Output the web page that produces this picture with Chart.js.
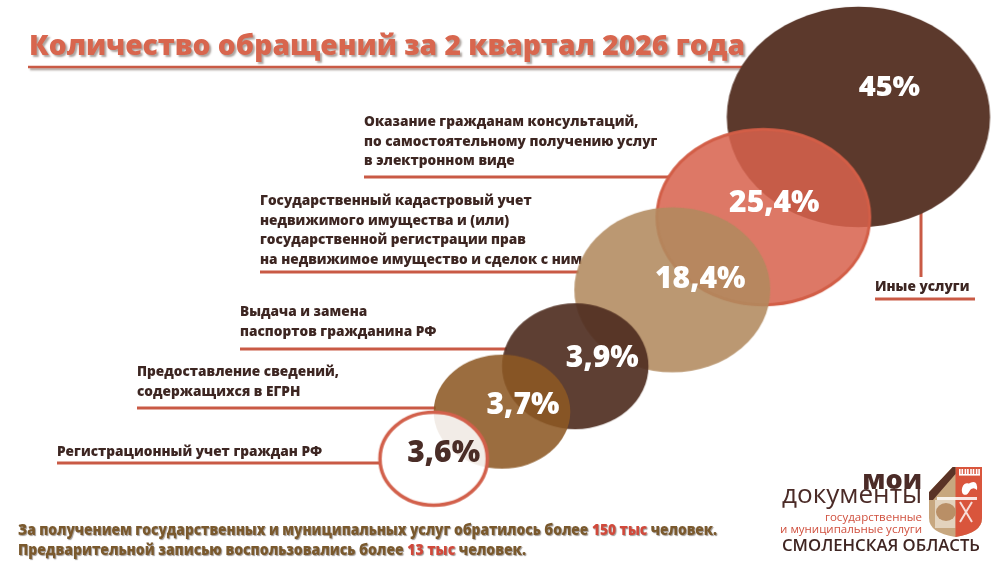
<!DOCTYPE html>
<html><head><meta charset="utf-8">
<script src="https://cdn.jsdelivr.net/npm/chart.js@4.4.1/dist/chart.umd.min.js"></script>
<style>html,body{margin:0;padding:0;background:#fff;overflow:hidden}#wrap{width:1000px;height:564px;position:relative}</style>
</head><body><div id="wrap"><canvas id="c" width="1000" height="564"></canvas></div>
<script>
// ---------- DATA ----------
const categories = [
  'Иные услуги',
  'Оказание гражданам консультаций, по самостоятельному получению услуг в электронном виде',
  'Государственный кадастровый учет недвижимого имущества и (или) государственной регистрации прав на недвижимое имущество и сделок с ним',
  'Выдача и замена паспортов гражданина РФ',
  'Предоставление сведений, содержащихся в ЕГРН',
  'Регистрационный учет граждан РФ'
];
const shares = [45, 25.4, 18.4, 3.9, 3.7, 3.6];
const categoryLines = [
  ['Иные услуги'],
  ['Оказание гражданам консультаций,', 'по самостоятельному получению услуг', 'в электронном виде'],
  ['Государственный кадастровый учет', 'недвижимого имущества и (или)', 'государственной регистрации прав', 'на недвижимое имущество и сделок с ним'],
  ['Выдача и замена', 'паспортов гражданина РФ'],
  ['Предоставление сведений,', 'содержащихся в ЕГРН'],
  ['Регистрационный учет граждан РФ']
];
const titleText = 'Количество обращений за 2 квартал 2026 года';
const totalVisitors = '150 тыс';
const preBooked = '13 тыс';

// ---------- LAYOUT (axis units 0..100) ----------
const bubbleCenter = [[86.2,20.2],[76.6,38.3],[67.4,51.4],[57.6,65.2],[50.2,73.4],[43.3,81.9]];
const bubbleRadius = [[13.3,19.9],[10.9,16.1],[9.9,14.9],[7.4,11.35],[6.9,10.3],[5.6,8.7]];
const valueOffset = [[31,-29],[11,-14],[28,-10],[27,-8],[21,-6],[10,-5]];
const labelPos = [[875,287],[364,122],[260,201],[240,312],[137,372],[57,452]];
const underlineY = [299,177,272,349,408,463];
// ---------- STYLES ----------
const fills = ['#5c392c','rgba(215,98,77,0.86)','rgba(178,138,95,0.88)','rgba(80,47,34,0.92)','rgba(141,89,36,0.88)','rgba(255,255,255,0.88)'];
const strokes = [null,'#d25e47',null,null,null,'#d2604b'];
const strokeW = [0,3,0,0,0,3.5];
const valueColors = ['#fff','#fff','#fff','#fff','#fff','#4a2d27'];
const lineColor = '#c95a45';
const textDark = '#3d2622';

const cache = {};
function ellipseImage(chart, i){
  const xs = chart.scales.x, ys = chart.scales.y;
  const cx = bubbleCenter[i][0], cy = bubbleCenter[i][1];
  const rx = Math.abs(xs.getPixelForValue(cx + bubbleRadius[i][0]) - xs.getPixelForValue(cx));
  const ry = Math.abs(ys.getPixelForValue(cy + bubbleRadius[i][1]) - ys.getPixelForValue(cy));
  const key = i + ':' + rx.toFixed(1) + ':' + ry.toFixed(1);
  if (cache[key]) return cache[key];
  const lw = strokeW[i];
  const W = 2*Math.ceil(rx + lw) + 2, H = 2*Math.ceil(ry + lw) + 2;
  const cv = document.createElement('canvas'); cv.width = W; cv.height = H;
  const g = cv.getContext('2d');
  g.beginPath(); g.ellipse(W/2, H/2, rx - lw/2, ry - lw/2, 0, 0, Math.PI*2);
  g.fillStyle = fills[i]; g.fill();
  if (strokes[i]) { g.lineWidth = lw; g.strokeStyle = strokes[i]; g.stroke(); }
  cache[key] = cv; return cv;
}
function ellipsePx(chart, i){
  const xs = chart.scales.x, ys = chart.scales.y;
  const cx = bubbleCenter[i][0], cy = bubbleCenter[i][1];
  return {
    x: xs.getPixelForValue(cx), y: ys.getPixelForValue(cy),
    rx: Math.abs(xs.getPixelForValue(cx + bubbleRadius[i][0]) - xs.getPixelForValue(cx)),
    ry: Math.abs(ys.getPixelForValue(cy + bubbleRadius[i][1]) - ys.getPixelForValue(cy))
  };
}
function leftEdge(e, y){
  const d = (y - e.y)/e.ry; return e.x - e.rx*Math.sqrt(Math.max(0, 1 - d*d));
}
function fitText(ctx, text, x, y, w){
  const m = ctx.measureText(text).width; const s = w ? w/m : 1;
  ctx.save(); ctx.translate(x, y); ctx.scale(s, 1); ctx.fillText(text, 0, 0); ctx.restore();
  return m*s;
}
const fmt = v => String(v).replace('.', ',') + '%';

const decor = {
  id: 'decor',
  beforeDatasetsDraw(chart){
    const ctx = chart.ctx;
    ctx.save();
    // title
    ctx.font = '800 28px "Open Sans"'; ctx.textBaseline = 'alphabetic'; ctx.textAlign = 'left';
    ctx.shadowColor = 'rgba(70,50,40,0.45)'; ctx.shadowOffsetX = 2; ctx.shadowOffsetY = 2; ctx.shadowBlur = 2;
    ctx.fillStyle = '#d8664e';
    fitText(ctx, titleText, 29, 55, 716);
    const big = ellipsePx(chart, 0);
    ctx.strokeStyle = lineColor; ctx.lineWidth = 2.5;
    ctx.beginPath(); ctx.moveTo(28, 67); ctx.lineTo(leftEdge(big, 67) + 2, 67); ctx.stroke();
    ctx.shadowColor = 'transparent';
    // leader lines
    ctx.lineWidth = 3; ctx.strokeStyle = lineColor;
    for (let i = 1; i < categories.length; i++) {
      const e = ellipsePx(chart, i); const y = underlineY[i];
      ctx.beginPath(); ctx.moveTo(labelPos[i][0], y); ctx.lineTo(leftEdge(e, y) + 2, y); ctx.stroke();
    }
    // "other" leader
    const vx = 921; const d = (vx - big.x)/big.rx; const by = big.y + big.ry*Math.sqrt(1 - d*d);
    ctx.beginPath(); ctx.moveTo(vx, by - 2); ctx.lineTo(vx, 277); ctx.stroke();
    ctx.beginPath(); ctx.moveTo(875, underlineY[0]); ctx.lineTo(975, underlineY[0]); ctx.stroke();
    // labels
    ctx.fillStyle = textDark; ctx.font = '800 14px "Open Sans"'; ctx.textBaseline = 'middle';
    for (let i = 0; i < categories.length; i++) {
      categoryLines[i].forEach((t, k) => {
        ctx.save(); ctx.translate(labelPos[i][0], labelPos[i][1] + k*19.5); ctx.scale(0.975, 1.04);
        ctx.fillText(t, 0, 0); ctx.restore();
      });
    }
    ctx.restore();
  },
  afterDatasetsDraw(chart){
    const ctx = chart.ctx; const meta = chart.getDatasetMeta(0);
    ctx.save();
    ctx.textAlign = 'center'; ctx.textBaseline = 'middle';
    meta.data.forEach((pt, i) => {
      ctx.fillStyle = valueColors[i];
      ctx.font = (i === 0 ? '800 29px' : '800 30px') + ' "Open Sans"';
      ctx.fillText(fmt(shares[i]), pt.x + valueOffset[i][0], pt.y + valueOffset[i][1]);
    });
    ctx.restore();
  },
  afterDraw(chart){
    const ctx = chart.ctx;
    ctx.save();
    // footer
    ctx.textBaseline = 'middle'; ctx.textAlign = 'left';
    ctx.font = '800 15px "Open Sans"';
    ctx.shadowColor = 'rgba(40,25,15,0.45)'; ctx.shadowOffsetX = 1; ctx.shadowOffsetY = 1; ctx.shadowBlur = 1;
    const rows = [
      [['За получением государственных и муниципальных услуг обратилось более ', '#7a592d'], [totalVisitors, '#d1493b'], [' человек.', '#7a592d']],
      [['Предварительной записью воспользовались более ', '#7a592d'], [preBooked, '#d1493b'], [' человек.', '#7a592d']]
    ];
    const rowW = [699, 508]; const rowY = [531, 551];
    rows.forEach((row, r) => {
      const total = row.reduce((s, p) => s + ctx.measureText(p[0]).width, 0);
      const sc = rowW[r]/total; let x = 18;
      row.forEach(p => {
        ctx.fillStyle = p[1];
        ctx.save(); ctx.translate(x, rowY[r]); ctx.scale(sc, 1); ctx.fillText(p[0], 0, 0); ctx.restore();
        x += ctx.measureText(p[0]).width*sc;
      });
    });
    ctx.shadowColor = 'transparent';
    // logo text
    ctx.textBaseline = 'alphabetic'; ctx.textAlign = 'right';
    ctx.fillStyle = '#4b2b27';
    ctx.font = '800 27px "Open Sans"'; ctx.fillText('мои', 922, 489);
    ctx.textAlign = 'left';
    ctx.font = '500 25px "Open Sans"'; fitText(ctx, 'документы', 782, 503, 140);
    ctx.fillStyle = '#d0503e'; ctx.font = '400 11.5px "Open Sans"'; ctx.textAlign = 'right';
    ctx.fillText('государственные', 922, 521);
    ctx.fillText('и муниципальные услуги', 922, 533);
    ctx.textAlign = 'left'; ctx.fillStyle = '#3f2522'; ctx.font = '600 17px "Open Sans"';
    fitText(ctx, 'СМОЛЕНСКАЯ ОБЛАСТЬ', 782, 551, 198);
    // shield
    const L = 929, R = 982, T = 467, M = 955.5, S = 518, B = 537;
    const shield = new Path2D();
    shield.moveTo(L, 492); shield.lineTo(M - 3, T); shield.lineTo(R, T); shield.lineTo(R, S);
    shield.quadraticCurveTo(R, B - 4, M, B); shield.quadraticCurveTo(L, B - 4, L, S); shield.closePath();
    ctx.save(); ctx.clip(shield);
    ctx.fillStyle = '#c7a77f'; ctx.fillRect(L, T, R - L, B - T);
    ctx.fillStyle = '#e3d3bd'; ctx.fillRect(L + 6, 500, M - L - 6, 28);
    ctx.fillStyle = '#d9553c'; ctx.fillRect(M, T, R - M, B - T);
    ctx.fillStyle = '#5a3326';
    ctx.beginPath(); ctx.moveTo(L, 492); ctx.lineTo(M - 3, T); ctx.lineTo(M, T); ctx.lineTo(M, 474); ctx.lineTo(L + 4, 500); ctx.lineTo(L, 500); ctx.closePath(); ctx.fill();
    ctx.fillStyle = '#fff';
    for (let k = 0; k < 4; k++) { ctx.fillRect(959 + k*5.6, 469, 1.6, 6); ctx.fillRect(961.5 + k*5.6, 469, 1.6, 6); }
    ctx.fillRect(959, 474, 21, 1.6);
    ctx.beginPath(); ctx.ellipse(966, 489, 4, 6, 0.3, 0, Math.PI*2); ctx.fill();
    ctx.beginPath(); ctx.moveTo(968, 484); ctx.quadraticCurveTo(978, 478, 977, 490); ctx.quadraticCurveTo(973, 486, 969, 491); ctx.fill();
    ctx.fillStyle = 'rgba(255,255,255,0.85)'; ctx.fillRect(937, 497, 40, 3);
    ctx.fillStyle = '#b98f66'; ctx.beginPath(); ctx.ellipse(946, 512, 10, 9, 0, 0, Math.PI*2); ctx.fill();
    ctx.strokeStyle = 'rgba(255,255,255,0.8)'; ctx.lineWidth = 2;
    ctx.beginPath(); ctx.moveTo(960, 502); ctx.lineTo(972, 522); ctx.moveTo(972, 502); ctx.lineTo(960, 522); ctx.stroke();
    ctx.restore();
    ctx.restore();
  }
};

new Chart(document.getElementById('c'), {
  type: 'scatter',
  data: {
    labels: categories,
    datasets: [{
      label: 'Доля обращений',
      data: shares.map((v, i) => ({ x: bubbleCenter[i][0], y: bubbleCenter[i][1], share: v })),
      pointRadius: 1,
      pointStyle: (c) => (c.dataIndex === undefined || !c.chart.scales.x) ? 'circle' : ellipseImage(c.chart, c.dataIndex),
      clip: false
    }]
  },
  options: {
    responsive: false, animation: false, events: [],
    layout: { padding: 0 },
    plugins: { legend: { display: false }, tooltip: { enabled: false }, title: { display: false } },
    scales: {
      x: { type: 'linear', min: 0, max: 100, display: false },
      y: { type: 'linear', min: 0, max: 100, reverse: true, display: false }
    }
  },
  plugins: [decor]
});
</script>
</body></html>
